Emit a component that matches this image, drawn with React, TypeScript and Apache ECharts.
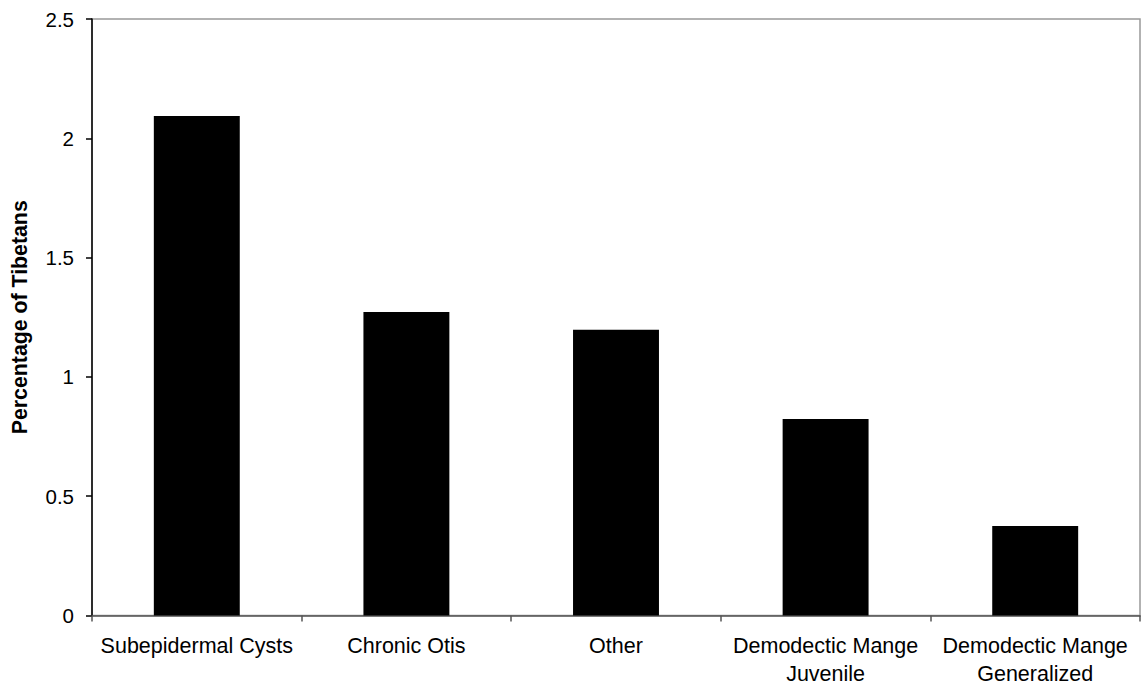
import React, { useEffect, useRef } from "react";
import * as echarts from "echarts";

const categories = [
  "Subepidermal Cysts",
  "Chronic Otis",
  "Other",
  "Demodectic Mange\nJuvenile",
  "Demodectic Mange\nGeneralized",
];
const values = [2.093, 1.272, 1.198, 0.824, 0.375];
const yAxisName = "Percentage of Tibetans";

export default function App() {
  const ref = useRef<HTMLDivElement>(null);
  useEffect(() => {
    if (!ref.current) return;
    const chart = echarts.init(ref.current, undefined, { renderer: "svg" });
    const font = "Arial, 'Liberation Sans', Helvetica, sans-serif";
    chart.setOption({
      animation: false,
      backgroundColor: "#fff",
      grid: {
        left: 92,
        top: 19,
        right: 1,
        bottom: 74.5,
        show: true,
        borderColor: "#999",
        borderWidth: 1.5,
        backgroundColor: "transparent",
      },
      xAxis: {
        type: "category",
        data: categories,
        boundaryGap: true,
        axisLine: { show: true, lineStyle: { color: "#555", width: 1.5 } },
        axisTick: {
          show: true,
          alignWithLabel: false,
          length: 6,
          lineStyle: { color: "#555", width: 1.5 },
        },
        axisLabel: {
          interval: 0,
          margin: 16,
          fontFamily: font,
          fontSize: 21.5,
          lineHeight: 28,
          color: "#000",
        },
        splitLine: { show: false },
      },
      yAxis: {
        type: "value",
        min: 0,
        max: 2.5,
        interval: 0.5,
        name: yAxisName,
        nameLocation: "middle",
        nameGap: 62,
        nameTextStyle: {
          fontFamily: font,
          fontSize: 21.3,
          fontWeight: "bold",
          color: "#000",
        },
        axisLine: { show: true, lineStyle: { color: "#000", width: 1.5 } },
        axisTick: { show: true, length: 6, lineStyle: { color: "#000", width: 1.5 } },
        axisLabel: {
          margin: 18,
          fontFamily: font,
          fontSize: 20.5,
          color: "#000",
        },
        splitLine: { show: false },
      },
      series: [
        {
          type: "bar",
          data: values,
          barWidth: "41%",
          itemStyle: { color: "#000" },
        },
      ],
    });
    return () => chart.dispose();
  }, []);
  return (
    <div
      ref={ref}
      style={{ position: "fixed", left: 0, top: 0, width: 1141, height: 690 }}
    />
  );
}
